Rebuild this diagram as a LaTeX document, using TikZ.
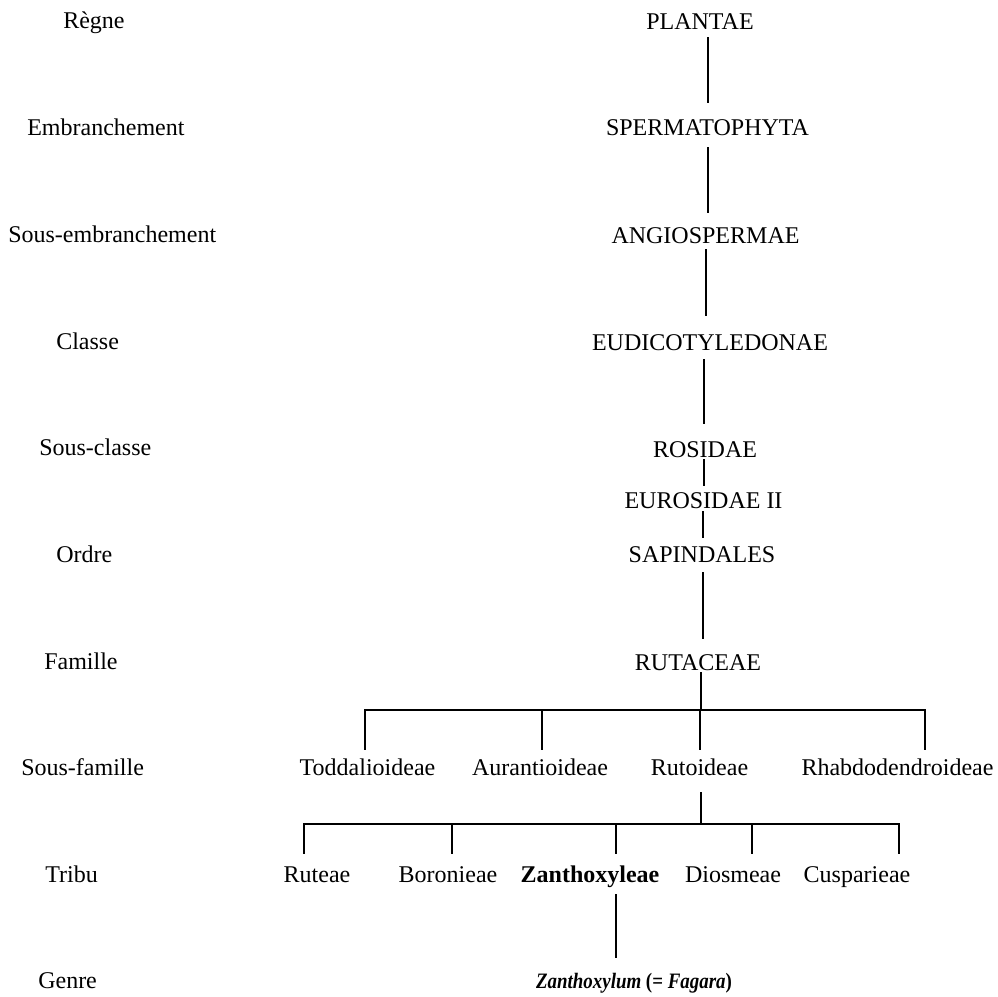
\documentclass[tikz,border=0pt]{standalone}
\usepackage{fontspec}
\setmainfont{Liberation Serif}
\begin{document}
\begin{tikzpicture}[x=0.75pt,y=-0.75pt,
  every node/.style={inner sep=0pt, font=\fontsize{18}{22}\selectfont},
  taxon/.style={anchor=base},
  rank/.style={anchor=base west},
  link/.style={line width=1.4pt, line cap=rect}]
\useasboundingbox (0,0) rectangle (998,996);
% rank labels
\node[rank] (rRegne) at (63,28) {Règne};
\node[rank] (rEmbr) at (27,135) {Embranchement};
\node[rank] (rSembr) at (8,242) {Sous-embranchement};
\node[rank] (rClasse) at (56,349) {Classe};
\node[rank] (rSclasse) at (39,455) {Sous-classe};
\node[rank] (rOrdre) at (56,562) {Ordre};
\node[rank] (rFam) at (44,669) {Famille};
\node[rank] (rSfam) at (21,775) {Sous-famille};
\node[rank] (rTribu) at (45,882) {Tribu};
\node[rank] (rGenre) at (38,988) {Genre};
% main column
\node[taxon] (plantae) at (700,29) {PLANTAE};
\node[taxon] (sperm) at (707.5,135) {SPERMATOPHYTA};
\node[taxon] (angio) at (705.5,243) {ANGIOSPERMAE};
\node[taxon] (eudi) at (710,350) {EUDICOTYLEDONAE};
\node[taxon] (rosid) at (705,457) {ROSIDAE};
\node[taxon] (euros) at (703.5,508) {EUROSIDAE II};
\node[taxon] (sapin) at (702,562) {SAPINDALES};
\node[taxon] (ruta) at (698,670) {RUTACEAE};
% sub-families
\node[taxon] (todd) at (367.5,775) {Toddalioideae};
\node[taxon] (auran) at (540,775) {Aurantioideae};
\node[taxon] (rutoi) at (699.5,775) {Rutoideae};
\node[taxon] (rhab) at (897.5,775) {Rhabdodendroideae};
% tribes
\node[taxon] (rutea) at (317,882) {Ruteae};
\node[taxon] (boron) at (448,882) {Boronieae};
\node[taxon] (zanth) at (590,882) {\textbf{Zanthoxyleae}};
\node[taxon] (diosm) at (733,882) {Diosmeae};
\node[taxon] (cuspa) at (857,882) {Cusparieae};
% genus
\node[taxon, font=\fontsize{16.5}{20}\selectfont] (genre) at (634,988) {\scalebox{0.86}[1]{\textbf{\textit{Zanthoxylum}} \textbf{(= \textit{Fagara})}}};
% vertical chain
\draw[link] ([shift={(8,9)}]plantae.base) -- ([shift={(0.5,-33)}]sperm.base);
\draw[link] ([shift={(0.5,13)}]sperm.base) -- ([shift={(2.5,-31)}]angio.base);
\draw[link] ([shift={(0.5,7)}]angio.base) -- ([shift={(-4,-35)}]eudi.base);
\draw[link] ([shift={(-6,10)}]eudi.base) -- ([shift={(-1,-34)}]rosid.base);
\draw[link] ([shift={(-1,3)}]rosid.base) -- ([shift={(0.5,-23)}]euros.base);
\draw[link] ([shift={(-0.5,4)}]euros.base) -- ([shift={(1,-25)}]sapin.base);
\draw[link] ([shift={(1,11)}]sapin.base) -- ([shift={(5,-32)}]ruta.base);
% family branching
\coordinate (b1) at ([shift={(3,40)}]ruta.base);
\coordinate (todd-t) at ([shift={(-2.5,-26)}]todd.base);
\coordinate (auran-t) at ([shift={(2,-26)}]auran.base);
\coordinate (rutoi-t) at ([shift={(0.5,-26)}]rutoi.base);
\coordinate (rhab-t) at ([shift={(27.5,-26)}]rhab.base);
\draw[link] ([shift={(3,3)}]ruta.base) -- (b1);
\draw[link] (todd-t) |- (b1) -| (rhab-t);
\draw[link] (auran-t) -- (auran-t |- b1);
\draw[link] (rutoi-t) -- (rutoi-t |- b1);
% tribe branching
\coordinate (b2) at ([shift={(1.5,49)}]rutoi.base);
\coordinate (rutea-t) at ([shift={(-13,-29)}]rutea.base);
\coordinate (boron-t) at ([shift={(4,-29)}]boron.base);
\coordinate (zanth-t) at ([shift={(26,-29)}]zanth.base);
\coordinate (diosm-t) at ([shift={(19,-29)}]diosm.base);
\coordinate (cuspa-t) at ([shift={(42,-29)}]cuspa.base);
\draw[link] ([shift={(1.5,18)}]rutoi.base) -- (b2);
\draw[link] (rutea-t) |- (b2) -| (cuspa-t);
\draw[link] (boron-t) -- (boron-t |- b2);
\draw[link] (zanth-t) -- (zanth-t |- b2);
\draw[link] (diosm-t) -- (diosm-t |- b2);
% genus link
\coordinate (zanth-b) at ([shift={(26,13)}]zanth.base);
\coordinate (genre-t) at ([shift={(0,-31)}]genre.base);
\draw[link] (zanth-b) -- (zanth-b |- genre-t);
\end{tikzpicture}
\end{document}
